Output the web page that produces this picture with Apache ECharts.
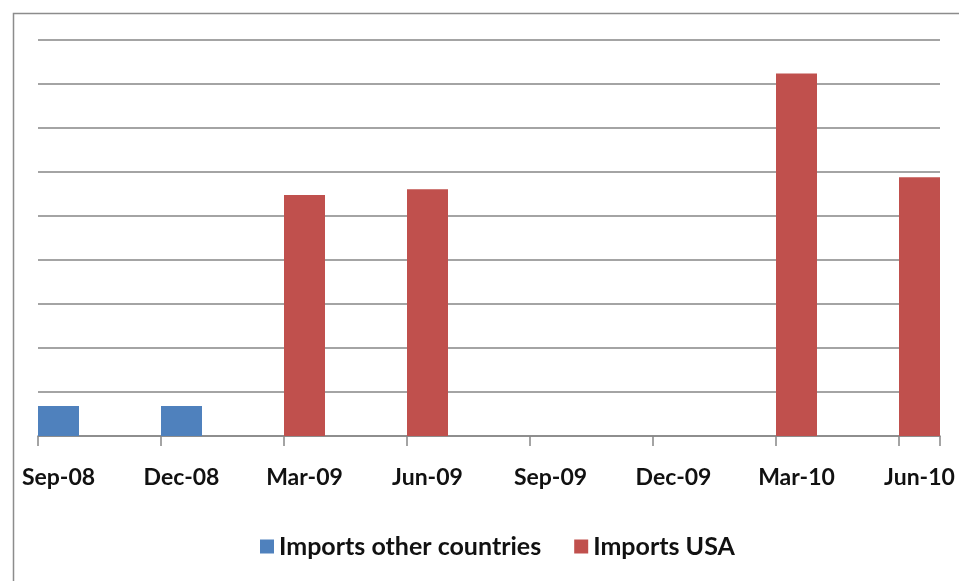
<!DOCTYPE html>
<html>
<head>
<meta charset="utf-8">
<script src="https://cdn.jsdelivr.net/npm/echarts@6/dist/echarts.min.js"></script>
<style>
html,body{margin:0;padding:0;background:#fff;}
#chart{width:959px;height:581px;}
</style>
</head>
<body>
<div id="chart"></div>
<script>
// Monthly date axis (Excel date axis), labels every 3 months
var months = ['Sep-08','Oct-08','Nov-08','Dec-08','Jan-09','Feb-09','Mar-09','Apr-09','May-09','Jun-09','Jul-09','Aug-09','Sep-09','Oct-09','Nov-09','Dec-09','Jan-10','Feb-10','Mar-10','Apr-10','May-10','Jun-10'];
var quarters = ['Sep-08','Dec-08','Mar-09','Jun-09','Sep-09','Dec-09','Mar-10','Jun-10'];
var importsOther = [0.68, 0.68, 0, 0, 0, 0, 0, 0];
var importsUSA   = [0, 0, 5.48, 5.61, 0, 0, 8.24, 5.88];
var yMin = 0, yMax = 9, yStep = 1;

function toMonthly(vals) {
  var out = months.map(function () { return null; });
  quarters.forEach(function (q, i) {
    var idx = months.indexOf(q);
    if (idx >= 0 && vals[i]) out[idx] = vals[i];
  });
  return out;
}

var chart = echarts.init(document.getElementById('chart'), null, {renderer: 'canvas'});
var font = 'Lato, "Open Sans", "DejaVu Sans", sans-serif';
chart.setOption({
  animation: false,
  backgroundColor: '#ffffff',
  graphic: [{
    type: 'rect',
    left: 11, top: 11,
    shape: {width: 1100, height: 1100},
    style: {fill: 'none', stroke: '#8c8c8c', lineWidth: 1.5},
    silent: true, z: -10
  }],
  grid: {left: 38, right: 19, top: 40, bottom: 145, containLabel: false},
  legend: {
    bottom: 17,
    left: 255,
    itemWidth: 14, itemHeight: 14,
    itemGap: 33,
    icon: 'rect',
    textStyle: {fontFamily: font, fontSize: 25, fontWeight: 'bold', color: '#111'},
    data: ['Imports other countries', 'Imports USA']
  },
  xAxis: {
    type: 'category',
    data: months,
    boundaryGap: true,
    axisLine: {lineStyle: {color: '#868686', width: 1.5}},
    axisTick: {show: true, interval: 2, length: 10, lineStyle: {color: '#868686', width: 1.5}},
    axisLabel: {interval: 2, margin: 30, fontFamily: font, fontSize: 23, fontWeight: 'bold', color: '#111'}
  },
  yAxis: {
    type: 'value',
    min: yMin, max: yMax, interval: yStep,
    axisLine: {show: false},
    axisTick: {show: false},
    axisLabel: {show: false},
    splitLine: {lineStyle: {color: '#868686', width: 1.5}}
  },
  series: [
    {name: 'Imports other countries', type: 'bar', data: toMonthly(importsOther),
     itemStyle: {color: '#4F81BD'}, barGap: '-100%', barCategoryGap: '0%'},
    {name: 'Imports USA', type: 'bar', data: toMonthly(importsUSA),
     itemStyle: {color: '#C0504D'}, barGap: '-100%', barCategoryGap: '0%'}
  ]
});
</script>
</body>
</html>
